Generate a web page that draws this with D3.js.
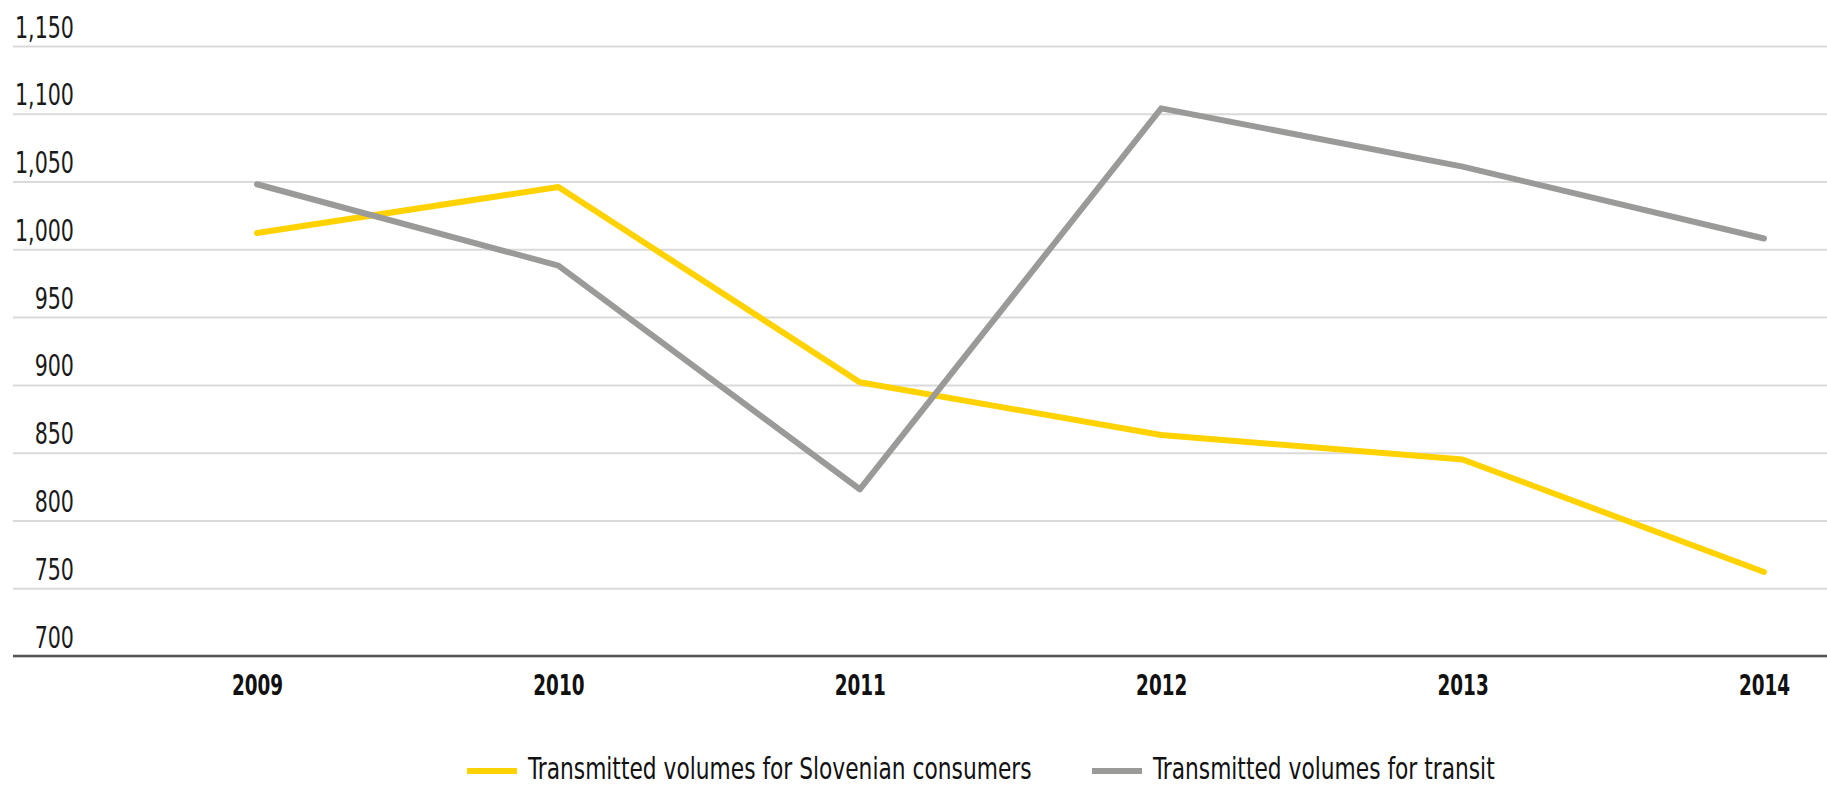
<!DOCTYPE html>
<html>
<head>
<meta charset="utf-8">
<script src="https://cdn.jsdelivr.net/npm/d3@7"></script>
<style>
  body { margin: 0; background: #fff; }
  text { font-family: "Liberation Sans Narrow", "DejaVu Sans Condensed", sans-serif; }
</style>
</head>
<body>
<div id="chart"></div>
<script>
var years = ["2009", "2010", "2011", "2012", "2013", "2014"];
var consumers = [1012, 1046, 902, 863, 845, 762];
var transit = [1048, 988, 823, 1104, 1061, 1008];
var yTicks = [700, 750, 800, 850, 900, 950, 1000, 1050, 1100, 1150];
var seriesNames = ["Transmitted volumes for Slovenian consumers", "Transmitted volumes for transit"];
var seriesColors = ["#ffd200", "#9a9a98"];

var width = 1827, height = 786;

var svg = d3.select("#chart")
    .append("svg")
        .attr("width", width)
        .attr("height", height);

var x = d3.scalePoint()
    .domain(years)
    .range([257, 1764]);

var y = d3.scaleLinear()
    .domain([700, 1150])
    .range([656, 46]);

// gridlines + y labels (condensed look via horizontal squeeze)
var grid = svg.append("g")
    .attr("transform", "translate(13,0)")
    .call(d3.axisLeft(y).tickValues(yTicks).tickSize(-(width - 13)).tickFormat(d3.format(",")));
grid.select(".domain").remove();
grid.selectAll(".tick line")
    .attr("stroke", "#dadada")
    .attr("stroke-width", 2);
grid.selectAll(".tick text")
    .attr("x", 0)
    .attr("dy", 0)
    .attr("transform", "translate(61,-9) scale(0.74,1)")
    .attr("text-anchor", "end")
    .attr("font-size", 31)
    .attr("fill", "#1a1a1a");

// x axis
var xAxis = svg.append("g")
    .attr("transform", "translate(0,656)")
    .call(d3.axisBottom(x).tickSize(0));
xAxis.select(".domain").remove();
xAxis.selectAll(".tick text")
    .attr("y", 0)
    .attr("dy", 0)
    .attr("transform", "translate(0,39) scale(0.73,1)")
    .attr("font-size", 28)
    .attr("font-weight", "bold")
    .attr("fill", "#111");
svg.append("line")
    .attr("x1", 13).attr("x2", width)
    .attr("y1", y(700)).attr("y2", y(700))
    .attr("stroke", "#555")
    .attr("stroke-width", 2.5);

var line = d3.line()
    .x(function (d, i) {return x(years[i]);})
    .y(function (d) {return y(d);});

[consumers, transit].forEach(function (s, k) {
    svg.append("path")
        .datum(s)
        .attr("d", line)
        .attr("fill", "none")
        .attr("stroke", seriesColors[k])
        .attr("stroke-width", 6)
        .attr("stroke-linejoin", "round")
        .attr("stroke-linecap", "round");
});

// legend
var legendX = [467, 1092];
var legend = svg.selectAll(".legend")
    .data(seriesNames)
    .enter()
    .append("g")
    .attr("class", "legend")
    .attr("transform", function (d, i) {return "translate(" + legendX[i] + ",771)";});
legend.append("line")
    .attr("x1", 0).attr("x2", 50)
    .attr("stroke", function (d, i) {return seriesColors[i];})
    .attr("stroke-width", 6);
legend.append("text")
    .attr("transform", "translate(61,8) scale(0.82,1)")
    .attr("font-size", 29.5)
    .attr("fill", "#111")
    .text(function (d) {return d;});
</script>
</body>
</html>
